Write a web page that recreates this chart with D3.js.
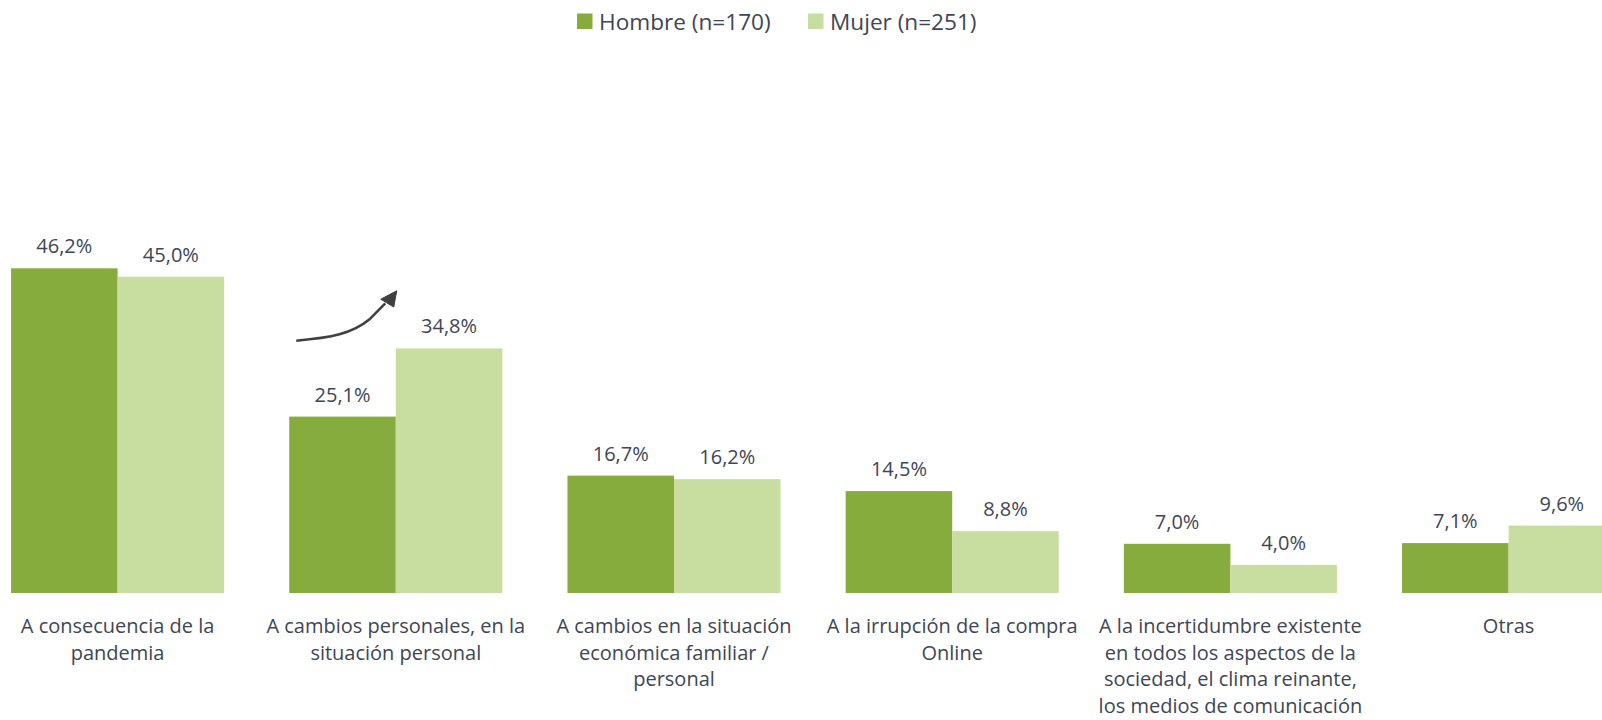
<!DOCTYPE html>
<html>
<head>
<meta charset="utf-8">
<script src="https://cdn.jsdelivr.net/npm/d3@7"></script>
<style>
  html, body { margin: 0; padding: 0; background: #ffffff; }
  svg { display: block; }
  text { font-family: "Open Sans", "Noto Sans", sans-serif; }
</style>
</head>
<body>
<svg id="chart" width="1602" height="720"></svg>
<script>
// Motivos del cambio, por sexo (%)
const categories = [
  ["A consecuencia de la", "pandemia"],
  ["A cambios personales, en la", "situación personal"],
  ["A cambios en la situación", "económica familiar /", "personal"],
  ["A la irrupción de la compra", "Online"],
  ["A la incertidumbre existente", "en todos los aspectos de la", "sociedad, el clima reinante,", "los medios de comunicación"],
  ["Otras"]
];
const seriesNames = ["Hombre (n=170)", "Mujer (n=251)"];
const hombre = [46.2, 25.1, 16.7, 14.5, 7.0, 7.1];
const mujer  = [45.0, 34.8, 16.2, 8.8, 4.0, 9.6];

const colors = ["#87ac3e", "#c7dea0"];
const textColor = "#404654";

const svg = d3.select("#chart");
const baseY = 593;

const x0 = d3.scaleBand()
  .domain(d3.range(categories.length))
  .range([-21.5, 1647.7])
  .paddingInner(0.234)
  .paddingOuter(0.117);

const x1 = d3.scaleBand()
  .domain([0, 1])
  .range([0, x0.bandwidth()]);

const y = d3.scaleLinear()
  .domain([0, 60])
  .range([baseY, baseY - 60 * 7.028]);

const fmt = v => d3.format(".1f")(v).replace(".", ",") + "%";

const rows = categories.map((c, i) => ({ i, values: [hombre[i], mujer[i]] }));

const groups = svg.append("g").selectAll("g")
  .data(rows)
  .join("g")
  .attr("transform", d => `translate(${x0(d.i)},0)`);

groups.selectAll("rect")
  .data(d => d.values.map((v, s) => ({ v, s })))
  .join("rect")
  .attr("x", d => x1(d.s))
  .attr("y", d => y(d.v))
  .attr("width", x1.bandwidth())
  .attr("height", d => y(0) - y(d.v))
  .attr("fill", d => colors[d.s]);

groups.selectAll("text.val")
  .data(d => d.values.map((v, s) => ({ v, s })))
  .join("text")
  .attr("class", "val")
  .attr("x", d => x1(d.s) + x1.bandwidth() / 2)
  .attr("y", d => y(d.v) - 15)
  .attr("text-anchor", "middle")
  .attr("font-size", 20)
  .attr("fill", textColor)
  .text(d => fmt(d.v));

// Category labels, wrapped in lines
const catLabels = svg.append("g").selectAll("text")
  .data(categories)
  .join("text")
  .attr("x", (d, i) => x0(i) + x0.bandwidth() / 2)
  .attr("y", baseY + 40)
  .attr("text-anchor", "middle")
  .attr("font-size", 20)
  .attr("fill", textColor);
catLabels.selectAll("tspan")
  .data(d => d)
  .join("tspan")
  .attr("x", function () { return this.parentNode.getAttribute("x"); })
  .attr("dy", (d, k) => k === 0 ? 0 : 26.6)
  .text(d => d);

// Legend
const legend = svg.append("g");
const legendItems = [
  { name: seriesNames[0], color: colors[0], x: 577 },
  { name: seriesNames[1], color: colors[1], x: 808 }
];
legendItems.forEach(it => {
  legend.append("rect")
    .attr("x", it.x).attr("y", 13.5)
    .attr("width", 15.5).attr("height", 15.5)
    .attr("fill", it.color);
  legend.append("text")
    .attr("x", it.x + 22).attr("y", 29.5)
    .attr("font-size", 22.6)
    .attr("fill", textColor)
    .text(it.name);
});

// Curved arrow highlighting the increase among women in the second group
const gx = x0(1);
const arrow = svg.append("g").attr("fill", "#404040").attr("stroke", "#404040");
arrow.append("path")
  .attr("d", `M${gx + 7},${y(35.9)} C${gx + 42},${y(36.3)} ${gx + 63},${y(36.9)} ${gx + 80},${y(38.9)} L${gx + 96},${y(41.2)}`)
  .attr("fill", "none")
  .attr("stroke-width", 2.6);
arrow.append("path")
  .attr("d", `M${gx + 107.5},${y(43.0)} L${gx + 91.5},${y(41.8)} L${gx + 104.5},${y(40.7)} Z`)
  .attr("stroke-width", 1);
</script>
</body>
</html>
